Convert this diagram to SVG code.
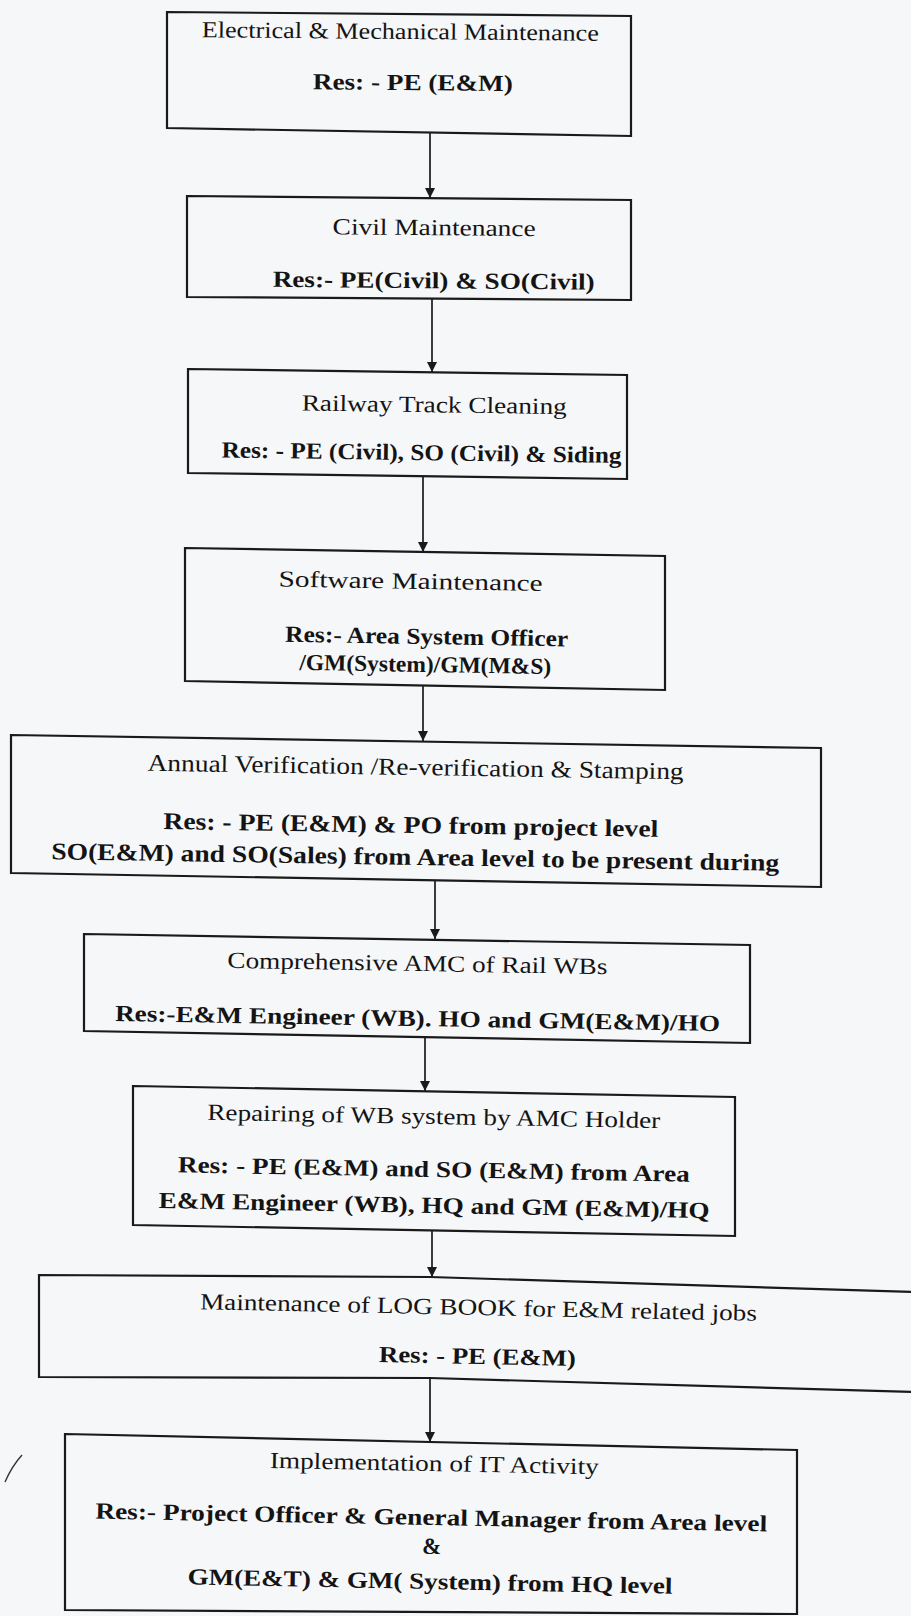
<svg xmlns="http://www.w3.org/2000/svg" width="911" height="1616" viewBox="0 0 911 1616">
<style>
.box{fill:none;stroke:#1a1a1a;stroke-width:2.2;stroke-linejoin:miter}
.t{font-family:"Liberation Serif","Times New Roman",serif;font-size:23px;fill:#141414;text-anchor:middle}
.b{font-weight:bold}
.con line{stroke:#1a1a1a;stroke-width:1.7}
</style>
<defs>
<marker id="ah" markerUnits="userSpaceOnUse" markerWidth="12" markerHeight="12" refX="10" refY="5" orient="auto">
<path d="M0,0 L10,5 L0,10 z" fill="#1a1a1a"/>
</marker>
</defs>
<rect width="911" height="1616" fill="#f6f7f9"/>

<g id="node1">
<polygon class="box" points="167,12 631,16 631,136 167,128"/>
<g transform="rotate(0.5 400 70)">
<text class="t" x="400" y="39" textLength="397" lengthAdjust="spacingAndGlyphs">Electrical &amp; Mechanical Maintenance</text>
<text class="t b" x="413" y="90" textLength="200" lengthAdjust="spacingAndGlyphs">Res: - PE (E&amp;M)</text>
</g>
</g>

<g id="node2">
<polygon class="box" points="187,196 631,200 631,300 187,297"/>
<g transform="rotate(0.5 409 248)">
<text class="t" x="434" y="235" textLength="203" lengthAdjust="spacingAndGlyphs">Civil Maintenance</text>
<text class="t b" x="434" y="288" textLength="322" lengthAdjust="spacingAndGlyphs">Res:- PE(Civil) &amp; SO(Civil)</text>
</g>
</g>

<g id="node3">
<polygon class="box" points="188,369 627,375 627,479 188,473"/>
<g transform="rotate(0.8 408 424)">
<text class="t" x="434" y="412" textLength="265" lengthAdjust="spacingAndGlyphs">Railway Track Cleaning</text>
<text class="t b" x="422" y="460" textLength="400" lengthAdjust="spacingAndGlyphs">Res: - PE (Civil), SO (Civil) &amp; Siding</text>
</g>
</g>

<g id="node4">
<polygon class="box" points="185,548 665,556 665,690 185,681"/>
<g transform="rotate(0.95 425 619)">
<text class="t" x="410" y="589" textLength="264" lengthAdjust="spacingAndGlyphs">Software Maintenance</text>
<text class="t b" x="427" y="644" textLength="283" lengthAdjust="spacingAndGlyphs">Res:- Area System Officer</text>
<text class="t b" x="426" y="672" textLength="252" lengthAdjust="spacingAndGlyphs">/GM(System)/GM(M&amp;S)</text>
</g>
</g>

<g id="node5">
<polygon class="box" points="11,735 821,748 821,887 11,873"/>
<g transform="rotate(0.92 416 811)">
<text class="t" x="415" y="775" textLength="536" lengthAdjust="spacingAndGlyphs" style="font-size:24px">Annual Verification /Re-verification &amp; Stamping</text>
<text class="t b" x="411" y="833" textLength="495" lengthAdjust="spacingAndGlyphs" style="font-size:24px">Res: - PE (E&amp;M) &amp; PO from project level</text>
<text class="t b" x="416" y="865" textLength="728" lengthAdjust="spacingAndGlyphs" style="font-size:24px">SO(E&amp;M) and SO(Sales) from Area level to be present during</text>
</g>
</g>

<g id="node6">
<polygon class="box" points="84,934 750,945 750,1043 84,1031"/>
<g transform="rotate(0.95 417 988)">
<text class="t" x="417" y="971" textLength="380" lengthAdjust="spacingAndGlyphs">Comprehensive AMC of Rail WBs</text>
<text class="t b" x="418" y="1026" textLength="605" lengthAdjust="spacingAndGlyphs">Res:-E&amp;M Engineer (WB). HO and GM(E&amp;M)/HO</text>
</g>
</g>

<g id="node7">
<polygon class="box" points="133,1086 735,1097 735,1236 133,1225"/>
<g transform="rotate(1.05 434 1161)">
<text class="t" x="433" y="1124" textLength="453" lengthAdjust="spacingAndGlyphs">Repairing of WB system by AMC Holder</text>
<text class="t b" x="434" y="1177" textLength="512" lengthAdjust="spacingAndGlyphs">Res: - PE (E&amp;M) and SO (E&amp;M) from Area</text>
<text class="t b" x="435" y="1213" textLength="551" lengthAdjust="spacingAndGlyphs">E&amp;M Engineer (WB), HQ and GM (E&amp;M)/HQ</text>
</g>
</g>

<g id="node8">
<polyline class="box" points="912,1292 430,1277 39,1275 39,1377 430,1378 912,1392"/>
<g transform="rotate(1.2 478 1330)">
<text class="t" x="478" y="1315" textLength="557" lengthAdjust="spacingAndGlyphs">Maintenance of LOG BOOK for E&amp;M related jobs</text>
<text class="t b" x="478" y="1364" textLength="197" lengthAdjust="spacingAndGlyphs">Res: - PE (E&amp;M)</text>
</g>
</g>

<g id="node9">
<polygon class="box" points="65,1434 797,1450 797,1614 65,1610"/>
<g transform="rotate(1.1 431 1530)">
<text class="t" x="433" y="1471" textLength="329" lengthAdjust="spacingAndGlyphs">Implementation of IT Activity</text>
<text class="t b" x="431" y="1525" textLength="672" lengthAdjust="spacingAndGlyphs">Res:- Project Officer &amp; General Manager from Area level</text>
<text class="t b" x="432" y="1554">&amp;</text>
<text class="t b" x="431" y="1589" textLength="485" lengthAdjust="spacingAndGlyphs">GM(E&amp;T) &amp; GM( System) from HQ level</text>
</g>
</g>

<g id="connectors" class="con">
<line x1="430" y1="133" x2="430" y2="198" marker-end="url(#ah)"/>
<line x1="432" y1="299" x2="432" y2="372" marker-end="url(#ah)"/>
<line x1="423" y1="477" x2="423" y2="552" marker-end="url(#ah)"/>
<line x1="423" y1="686" x2="423" y2="741" marker-end="url(#ah)"/>
<line x1="435" y1="881" x2="435" y2="939" marker-end="url(#ah)"/>
<line x1="425" y1="1037" x2="425" y2="1091" marker-end="url(#ah)"/>
<line x1="432" y1="1231" x2="432" y2="1277" marker-end="url(#ah)"/>
<line x1="430" y1="1378" x2="430" y2="1442" marker-end="url(#ah)"/>
</g>

<path d="M5,1482 Q12,1466 22,1455" fill="none" stroke="#333" stroke-width="1.4"/>
</svg>
